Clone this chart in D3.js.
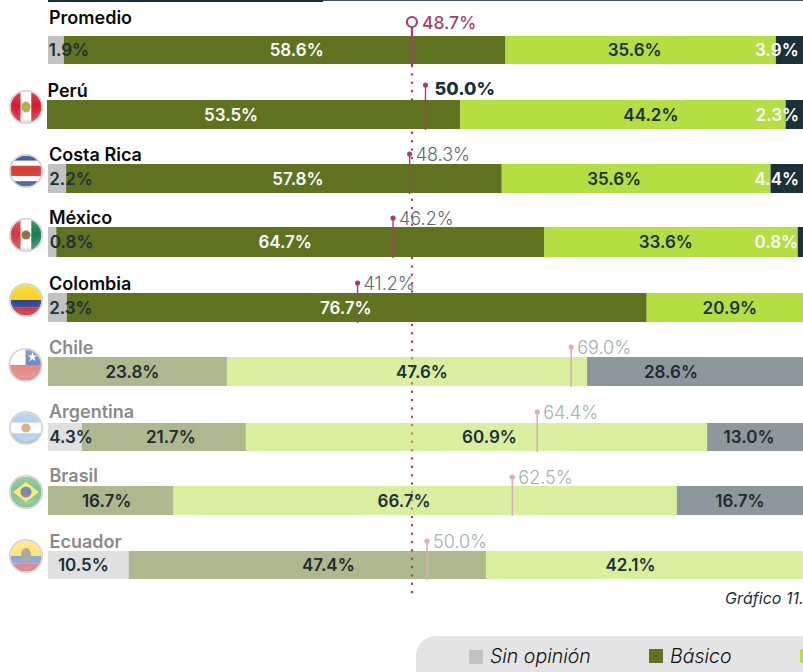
<!DOCTYPE html>
<html><head><meta charset="utf-8">
<script src="https://cdn.jsdelivr.net/npm/d3@7"></script>
<style>html,body{margin:0;padding:0;background:#fff;overflow:hidden}svg{display:block}text{font-family:Inter,"Liberation Sans",sans-serif}</style>
</head><body><div id="chart"></div>
<script>
// ---------- data ----------
const countries = ["Promedio","Perú","Costa Rica","México","Colombia","Chile","Argentina","Brasil","Ecuador"];
const faded     = [false,false,false,false,false,true,true,true,true];
// Bar lengths, in % of the bar width
const sinOpinion = [2.1, 0,   2.4, 1.1, 2.5, 0,   4.5, 0,   10.7];
const basico     = [58.5,54.6,57.7,64.6,76.8,23.7,21.7,16.6,47.3];
const nivel3     = [35.8,43.1,35.6,33.6,20.7,47.7,61.1,66.7,42.0];
const nivel4     = [3.6, 2.3, 4.3, 0.7, 0,   28.6,12.7,16.7,0];
// Printed value labels
const sinOpinionLabels = ["1.9%",null,"2.2%","0.8%","2.3%",null,"4.3%",null,"10.5%"];
const basicoLabels     = ["58.6%","53.5%","57.8%","64.7%","76.7%","23.8%","21.7%","16.7%","47.4%"];
const nivel3Labels     = ["35.6%","44.2%","35.6%","33.6%","20.9%","47.6%","60.9%","66.7%","42.1%"];
const nivel4Labels     = ["3.9%","2.3%","4.4%","0.8%",null,"28.6%","13.0%","16.7%",null];
// Lollipop: position (% of width) and printed label
const markerValues = [48.2,50.0,47.9,45.7,41.0,69.3,64.8,61.5,50.2];
const markerLabels = ["48.7%","50.0%","48.3%","46.2%","41.2%","69.0%","64.4%","62.5%","50.0%"];
const legendNames  = ["Sin opinión","Básico",""];
const noteText     = "Gráfico 11.";

// ---------- layout constants ----------
const W = 803, H = 672;
const rowTops    = [36,100,164,227,293,357,423,486,551];
const rowHeights = [28,29,29,30,29,29,28,29,28];
const nameBase   = [24,97,161,224,290,354,418,482,548];
const nameX      = [49,47.5,49,49,49,49,49,49.5,49.5];
const markerTops = [22,85,154,218,283,347,412,477,541];
const flagY      = [null,107,171,235,300,365,428,492,556];
const colors    = ["#c2c2c2","#5e7220","#b5de42","#1a3138"];
const textFill  = ["#1a3138","#ffffff","#1a3138","#ffffff"];
const fadedText = ["#1a3138","#222b2c","#1a3138","#222b2c"];
const magenta = "#a63f6c";
// hand-placed label nudges from the segment centre (px)
const nudges = [
 [13,12,-6,-12.5],[0,-23,28,-17],[14,14,-22,-10],[19.5,-15,-5,-24],[13.5,-11,5,0],
 [0,-5,15,-24],[6,7,13,-6],[0,-4,-21,0],[-5,21,-14,0]];

const series = [sinOpinion,basico,nivel3,nivel4];
const seriesLabels = [sinOpinionLabels,basicoLabels,nivel3Labels,nivel4Labels];

const x = d3.scaleLinear().domain([0,100]).range([48,803]);
const y = d3.scaleOrdinal().domain(countries).range(rowTops);

const svg = d3.select("#chart").append("svg").attr("width",W).attr("height",H).attr("viewBox",`0 0 ${W} ${H}`);
const defs = svg.append("defs");
const gloss = defs.append("radialGradient").attr("id","gloss").attr("cx","50%").attr("cy","42%").attr("r","58%");
gloss.append("stop").attr("offset","72%").attr("stop-color","#fff").attr("stop-opacity",0);
gloss.append("stop").attr("offset","100%").attr("stop-color","#555").attr("stop-opacity",0.25);
const sheen = defs.append("linearGradient").attr("id","sheen").attr("x1",0).attr("x2",0).attr("y1",0).attr("y2",1);
sheen.append("stop").attr("offset","0%").attr("stop-color","#fff").attr("stop-opacity",0.22);
sheen.append("stop").attr("offset","45%").attr("stop-color","#fff").attr("stop-opacity",0.03);
sheen.append("stop").attr("offset","100%").attr("stop-color","#fff").attr("stop-opacity",0.22);

// top rule
svg.append("rect").attr("x",323).attr("y",0).attr("width",480).attr("height",1).attr("fill","#3d5358");
svg.append("rect").attr("x",48).attr("y",0).attr("width",275).attr("height",2).attr("fill","#1a3138");

// dotted reference line (below the bars; shows through the faded ones)
svg.append("line").attr("x1",412).attr("x2",412).attr("y1",66).attr("y2",593)
  .attr("stroke",magenta).attr("stroke-width",2.4).attr("stroke-linecap","round").attr("stroke-dasharray","0.1 8.25");

// bars
countries.forEach((c,i)=>{
  let acc=0;
  const segs=series.map((s,k)=>{const d={k,start:acc,v:s[i]};acc+=s[i];return d;}).filter(d=>d.v>0);
  const lead=c==="Perú"?1:0;
  svg.append("g").attr("class","row").selectAll("rect").data(segs).join("rect")
    .attr("x",(d,j)=>x(d.start)-(j===0?lead:0)).attr("y",y(c))
    .attr("width",(d,j)=>x(d.start+d.v)-x(d.start)+(j===0?lead:0)+(j===segs.length-1?6:0))
    .attr("height",rowHeights[i])
    .attr("fill",d=>colors[d.k]).attr("opacity",faded[i]?0.5:1);
});

// flags
function flag(i){
  const c=countries[i], cy=flagY[i], cx=(c==="Chile")?25.5:26, r=15.5;
  const id="cf"+i;
  defs.append("clipPath").attr("id",id).append("circle").attr("cx",cx).attr("cy",cy).attr("r",r);
  const g=svg.append("g").attr("clip-path",`url(#${id})`);
  const inner=g.append("g").attr("opacity",faded[i]?0.6:1);
  const hs=(arr)=>arr.forEach(([a,b,col])=>inner.append("rect").attr("x",cx-r).attr("width",2*r).attr("y",cy-r+a*2*r).attr("height",(b-a)*2*r).attr("fill",col));
  const vs=(arr)=>arr.forEach(([a,b,col])=>inner.append("rect").attr("y",cy-r).attr("height",2*r).attr("x",cx-r+a*2*r).attr("width",(b-a)*2*r).attr("fill",col));
  if(c==="Perú"){vs([[0,.33,"#d91023"],[.33,.67,"#fff"],[.67,1,"#d91023"]]);
    g.append("ellipse").attr("cx",cx).attr("cy",cy).attr("rx",4.5).attr("ry",5.5).attr("fill","#9bb04a");
    g.append("circle").attr("cx",cx).attr("cy",cy).attr("r",2.2).attr("fill","#d6a32e");}
  if(c==="Costa Rica")hs([[0,.17,"#1f3f8f"],[.17,.33,"#fff"],[.33,.67,"#d8352a"],[.67,.83,"#fff"],[.83,1,"#1f3f8f"]]);
  if(c==="México"){vs([[0,.33,"#d3303a"],[.33,.67,"#fff"],[.67,1,"#0f7a4f"]]);
    g.append("circle").attr("cx",cx).attr("cy",cy).attr("r",4.5).attr("fill","#8a6a3a");}
  if(c==="Colombia")hs([[0,.5,"#fcd116"],[.5,.75,"#1f3a8f"],[.75,1,"#ce1126"]]);
  if(c==="Chile"){hs([[0,.5,"#fff"],[.5,1,"#d52b1e"]]);
    inner.append("rect").attr("x",cx).attr("y",cy-r).attr("width",r).attr("height",r).attr("fill","#0039a6");
    g.append("path").attr("d",d3.symbol(d3.symbolStar,30)()).attr("transform",`translate(${cx+7},${cy-8})`).attr("fill","#fff");}
  if(c==="Argentina"){hs([[0,.33,"#74acdf"],[.33,.67,"#fff"],[.67,1,"#74acdf"]]);
    inner.append("circle").attr("cx",cx).attr("cy",cy).attr("r",4.5).attr("fill","#c07a20");}
  if(c==="Brasil"){inner.append("rect").attr("x",cx-r).attr("y",cy-r).attr("width",2*r).attr("height",2*r).attr("fill","#1e9a3c");
    inner.append("path").attr("d",`M${cx-13},${cy}L${cx},${cy-10}L${cx+13},${cy}L${cx},${cy+10}Z`).attr("fill","#f6d80f");
    inner.append("circle").attr("cx",cx).attr("cy",cy).attr("r",5.5).attr("fill","#1b2f7a");}
  if(c==="Ecuador"){hs([[0,.5,"#fcd116"],[.5,.75,"#2f62b5"],[.75,1,"#ce1126"]]);
    inner.append("ellipse").attr("cx",cx).attr("cy",cy-1).attr("rx",5).attr("ry",7).attr("fill","#6f6a58");}
  svg.append("circle").attr("cx",cx).attr("cy",cy).attr("r",r).attr("fill","url(#sheen)");
  svg.append("circle").attr("cx",cx).attr("cy",cy).attr("r",r).attr("fill","url(#gloss)");
  svg.append("circle").attr("cx",cx).attr("cy",cy).attr("r",r+0.7).attr("fill","none").attr("stroke","#d2d2d2").attr("stroke-width",1.6);
}
countries.forEach((c,i)=>{ if(flagY[i]!==null) flag(i); });

// country names
svg.append("g").selectAll("text").data(countries).join("text")
  .attr("x",(d,i)=>nameX[i]).attr("y",(d,i)=>nameBase[i])
  .attr("font-size",18).attr("font-weight",600)
  .attr("fill",(d,i)=>faded[i]?"#8a8a8a":"#0b0b0b").text(d=>d);

// lollipops
countries.forEach((c,i)=>{
  const mx=x(markerValues[i]), dotY=markerTops[i];
  const col=faded[i]?"#d8aebd":magenta;
  const bottom=y(c)+rowHeights[i]+(i===0?2:1);
  svg.append("line").attr("x1",mx).attr("x2",mx).attr("y1",i===0?27:dotY).attr("y2",bottom)
    .attr("stroke",col).attr("stroke-width",i===0?2.2:(faded[i]?1.6:1.4));
  if(i===0){
    svg.append("circle").attr("cx",mx).attr("cy",dotY).attr("r",5).attr("fill","#fff").attr("stroke",col).attr("stroke-width",2.2);
  } else {
    svg.append("circle").attr("cx",mx).attr("cy",dotY).attr("r",2.6).attr("fill",col);
  }
  svg.append("text").attr("x",mx+(i===0?10:(i===1?9:6))).attr("y",dotY+(i===1?10:6.5))
    .attr("font-size",i===1?18:(i===0?17.5:18)).attr("font-weight",i===1?800:(i===0?500:300))
    .attr("fill",i===0?magenta:(i===1?"#1a3138":(faded[i]?"#a2adae":"#566a6f")))
    .text(markerLabels[i]);
});

// value labels
countries.forEach((c,i)=>{
  let acc=0;
  series.forEach((s,k)=>{
    const v=s[i], lab=seriesLabels[k][i];
    if(lab){
      const cx=(x(acc)+x(acc+v))/2+nudges[i][k];
      svg.append("text").attr("x",cx).attr("y",y(c)+rowHeights[i]/2+6).attr("text-anchor","middle")
        .attr("font-size",17).attr("font-weight",600)
        .attr("fill",faded[i]?fadedText[k]:textFill[k]).text(lab);
    }
    acc+=v;
  });
});

// note
svg.append("text").attr("x",725).attr("y",604).attr("font-size",16).attr("font-style","italic")
  .attr("fill","#1a3138").text(noteText);

// legend
svg.append("rect").attr("x",416).attr("y",636).attr("width",420).attr("height",70).attr("rx",20).attr("fill","#e4e4e4");
const legX=[469,649,800];
legendNames.forEach((n,i)=>{
  svg.append("rect").attr("x",legX[i]).attr("y",i===0?650:649).attr("width",14).attr("height",14).attr("fill",colors[i]);
  if(n) svg.append("text").attr("x",legX[i]+21).attr("y",663).attr("font-size",19.5).attr("font-style","italic").attr("font-weight",300).attr("fill","#111").text(n);
});
</script></body></html>
